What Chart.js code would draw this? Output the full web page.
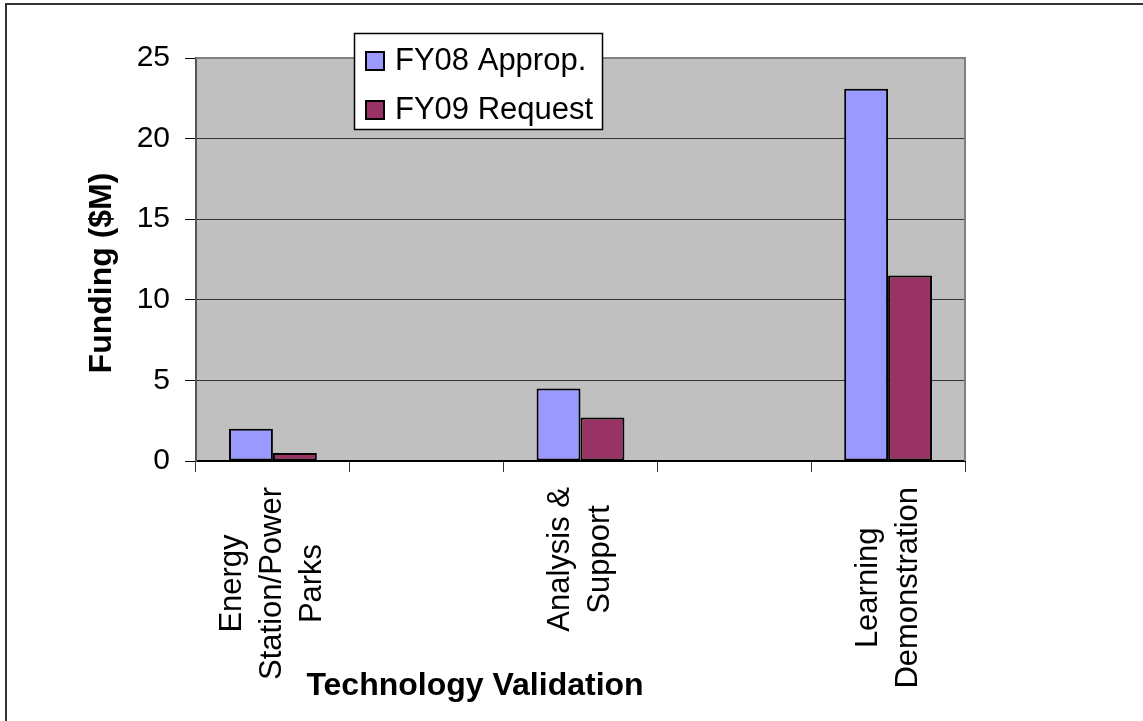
<!DOCTYPE html>
<html>
<head>
<meta charset="utf-8">
<script src="https://cdn.jsdelivr.net/npm/chart.js@4.4.1/dist/chart.umd.min.js"></script>
<style>
    html, body { margin: 0; padding: 0; background: #fff; }
    canvas { display: block; }
</style>
</head>
<body>
<canvas id="fundingChart" width="1143" height="721"></canvas>
<script>
// Chart data
var categories = [['Energy', 'Station/Power', 'Parks'], [''], ['Analysis &', 'Support'], [''], ['Learning', 'Demonstration']];
var fy08Approp = [2.0, null, 4.5, null, 23.1];
var fy09Request = [0.5, null, 2.7, null, 11.5];
var yTicks = [0, 5, 10, 15, 20, 25];
var seriesNames = ['FY08 Approp.', 'FY09 Request'];
var yTitle = 'Funding ($M)';
var xTitle = 'Technology Validation';

var FONT = '"Liberation Sans", Arial, sans-serif';

// Gray plot background + outer frame
var backgroundPlugin = {
    id: 'plotBackground',
    beforeDraw: function (chart) {
        var ctx = chart.ctx;
        var a = chart.chartArea;
        ctx.save();
        ctx.fillStyle = '#C0C0C0';
        ctx.fillRect(a.left, a.top, a.right - a.left, a.bottom - a.top);
        // outer frame (only top / left show in the picture)
        ctx.strokeStyle = '#333';
        ctx.lineWidth = 2;
        ctx.beginPath();
        ctx.moveTo(6, 721);
        ctx.lineTo(6, 4);
        ctx.lineTo(1143, 4);
        ctx.stroke();
        ctx.restore();
    }
};

// Category labels, axis titles, legend
var decorPlugin = {
    id: 'decor',
    afterDraw: function (chart) {
        var ctx = chart.ctx;
        var a = chart.chartArea;
        var xs = chart.scales.x;
        ctx.save();

        // plot border top / right
        ctx.strokeStyle = '#808080';
        ctx.lineWidth = 2;
        ctx.beginPath();
        ctx.moveTo(a.left, a.top);
        ctx.lineTo(a.right, a.top);
        ctx.lineTo(a.right, a.bottom);
        ctx.stroke();

        // rotated, multi-line category labels
        ctx.fillStyle = '#000';
        ctx.font = '31px ' + FONT;
        categories.forEach(function (lines, i) {
            var cx = xs.getPixelForValue(i);
            var maxW = Math.max.apply(null, lines.map(function (l) { return ctx.measureText(l).width; }));
            var cy = a.bottom + 26 + maxW / 2;
            ctx.save();
            ctx.translate(cx, cy);
            ctx.rotate(-Math.PI / 2);
            ctx.textAlign = 'center';
            ctx.textBaseline = 'middle';
            lines.forEach(function (l, j) {
                ctx.fillText(l, 0, (j - (lines.length - 1) / 2) * 40);
            });
            ctx.restore();
        });

        // axis titles
        ctx.font = 'bold 32px ' + FONT;
        ctx.textAlign = 'center';
        ctx.textBaseline = 'alphabetic';
        ctx.fillText(xTitle, 475, 695);
        ctx.save();
        ctx.translate(102, 273);
        ctx.rotate(-Math.PI / 2);
        ctx.textBaseline = 'middle';
        ctx.fillText(yTitle, 0, 0);
        ctx.restore();

        // legend box
        ctx.fillStyle = '#fff';
        ctx.fillRect(354, 33, 248, 96);
        ctx.strokeStyle = '#000';
        ctx.lineWidth = 1.5;
        ctx.strokeRect(354.5, 33.5, 248, 96);
        ctx.font = '31px ' + FONT;
        ctx.textAlign = 'left';
        chart.data.datasets.forEach(function (ds, i) {
            var y = 52 + i * 49;
            ctx.fillStyle = ds.backgroundColor;
            ctx.fillRect(366, y, 18, 18);
            ctx.lineWidth = 2;
            ctx.strokeRect(366, y, 18, 18);
            ctx.fillStyle = '#000';
            ctx.fillText(ds.label, 395, y + 18);
        });
        ctx.restore();
    }
};

var ctx = document.getElementById('fundingChart').getContext('2d');
var fundingChart = new Chart(ctx, {
    type: 'bar',
    data: {
        labels: categories,
        datasets: [
            {
                label: seriesNames[0],
                data: fy08Approp,
                backgroundColor: '#9999FF',
                borderColor: '#000',
                borderWidth: 2,
                borderSkipped: false,
                categoryPercentage: 0.571,
                barPercentage: 1.0
            },
            {
                label: seriesNames[1],
                data: fy09Request,
                backgroundColor: '#993366',
                borderColor: '#000',
                borderWidth: 2,
                borderSkipped: false,
                categoryPercentage: 0.571,
                barPercentage: 1.0
            }
        ]
    },
    options: {
        responsive: false,
        animation: false,
        layout: { padding: { top: 58, right: 178, bottom: 0, left: 0 } },
        plugins: {
            legend: { display: false },
            tooltip: { enabled: false }
        },
        scales: {
            x: {
                ticks: { display: false },
                grid: {
                    offset: true,
                    drawOnChartArea: false,
                    drawTicks: true,
                    tickLength: 11,
                    color: '#333'
                },
                border: { color: '#000', width: 2 },
                afterFit: function (scale) { scale.height = 260; }
            },
            y: {
                min: 0,
                max: 25,
                afterBuildTicks: function (scale) {
                    scale.ticks = yTicks.map(function (v) { return { value: v }; });
                },
                ticks: {
                    color: '#000',
                    padding: 15,
                    font: { family: FONT, size: 30 }
                },
                grid: {
                    color: '#333',
                    lineWidth: 1,
                    tickLength: 11,
                    tickColor: '#000'
                },
                border: { color: '#555', width: 2 },
                afterFit: function (scale) { scale.width = 196; }
            }
        }
    },
    plugins: [backgroundPlugin, decorPlugin]
});
</script>
</body>
</html>
